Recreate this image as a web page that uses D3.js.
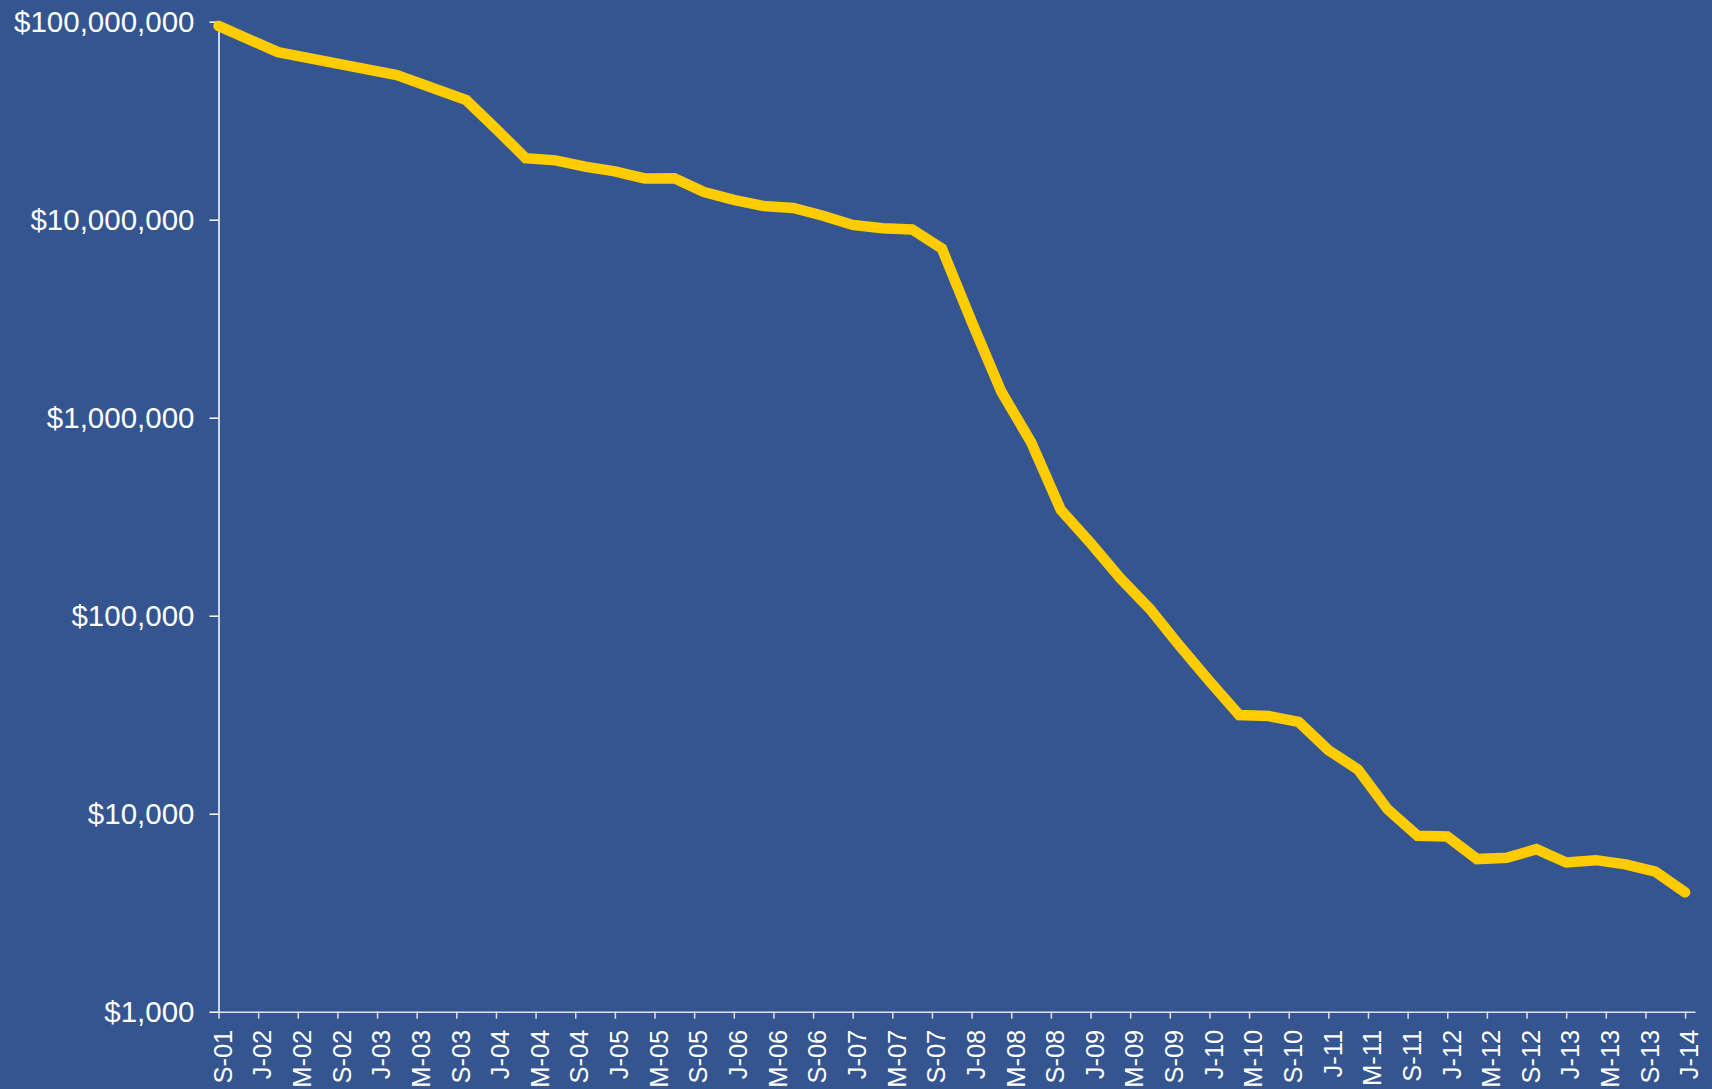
<!DOCTYPE html>
<html>
<head>
<meta charset="utf-8">
<script src="https://cdn.jsdelivr.net/npm/d3@7"></script>
<style>
  html, body { margin: 0; padding: 0; background: #34558f; }
  svg { display: block; }
</style>
</head>
<body>
<div id="chart"></div>
<script>
// cost per genome
const dates = [
  "Sep-01", "Mar-02", "Sep-02", "Mar-03", "Oct-03", "Jan-04", "Apr-04", "Jul-04",
  "Oct-04", "Jan-05", "Apr-05", "Jul-05", "Oct-05", "Jan-06", "Apr-06", "Jul-06",
  "Oct-06", "Jan-07", "Apr-07", "Jul-07", "Oct-07", "Jan-08", "Apr-08", "Jul-08",
  "Oct-08", "Jan-09", "Apr-09", "Jul-09", "Oct-09", "Jan-10", "Apr-10", "Jul-10",
  "Oct-10", "Jan-11", "Apr-11", "Jul-11", "Oct-11", "Jan-12", "Apr-12", "Jul-12",
  "Oct-12", "Jan-13", "Apr-13", "Jul-13", "Oct-13", "Jan-14"
];
const costs = [
  95263072, 70175437, 61448422, 53751684, 40157554, 28780376, 20442576, 19934346,
  18519312, 17534970, 16159699, 16180224, 13801124, 12585659, 11732535, 11455315,
  10474556, 9408739, 9047003, 8927342, 7147571, 3063820, 1352982, 752080,
  342502, 232735, 154714, 108065, 70333, 46774, 31512, 31125,
  29092, 20963, 16712, 10497, 7743, 7666, 5901, 5985,
  6618, 5671, 5826, 5550, 5096, 4008
];
const xTickLabels = [
  "S-01", "J-02", "M-02", "S-02", "J-03", "M-03", "S-03", "J-04", "M-04", "S-04",
  "J-05", "M-05", "S-05", "J-06", "M-06", "S-06", "J-07", "M-07", "S-07", "J-08",
  "M-08", "S-08", "J-09", "M-09", "S-09", "J-10", "M-10", "S-10", "J-11", "M-11",
  "S-11", "J-12", "M-12", "S-12", "J-13", "M-13", "S-13", "J-14"
];
const yTicks = [1000, 10000, 100000, 1000000, 10000000, 100000000];

const width = 1712;
const height = 1089;
const marginLeft = 218.5;
const marginTop = 21.7;
const plotBottom = 1011.7;
const plotRight = 1695;

// months since Sep 2001, the axis runs in month steps
const parse = d3.timeParse("%b-%y");
const start = parse(dates[0]);
const data = dates.map((d, i) => ({
  m: d3.timeMonth.count(start, parse(d)),
  v: costs[i]
}));
const tickMonths = xTickLabels.map((l, i) => i * 4);

const x = d3.scaleLinear()
  .domain([0, 149])
  .range([marginLeft, plotRight]);

const y = d3.scaleLog()
  .domain([1000, 100000000])
  .range([plotBottom, marginTop]);

const svg = d3.select("#chart")
  .append("svg")
  .attr("width", width)
  .attr("height", height)
  .attr("viewBox", [0, 0, width, height])
  .style("font-family", "'Liberation Sans', Arial, sans-serif");

svg.append("rect")
  .attr("width", width)
  .attr("height", height)
  .attr("fill", "#34558f");

// y axis
const yAxis = svg.append("g")
  .attr("transform", `translate(${marginLeft},0)`)
  .call(d3.axisLeft(y)
    .tickValues(yTicks)
    .tickFormat(d => "$" + d3.format(",")(d))
    .tickSize(9)
    .tickSizeOuter(0)
    .tickPadding(15));
yAxis.select(".domain").attr("stroke", "#ffffff").attr("stroke-width", 1.5);
yAxis.selectAll(".tick line").attr("stroke", "#ffffff").attr("stroke-width", 1.5);
yAxis.selectAll(".tick text")
  .attr("fill", "#ffffff")
  .style("font-size", "29.5px");

// x axis
const xAxis = svg.append("g")
  .attr("transform", `translate(0,${plotBottom})`)
  .call(d3.axisBottom(x)
    .tickValues(tickMonths)
    .tickFormat((d, i) => xTickLabels[i])
    .tickSize(7)
    .tickSizeOuter(0));
xAxis.select(".domain").attr("stroke", "#dde3ee").attr("stroke-width", 1.5);
xAxis.selectAll(".tick line").attr("stroke", "#dde3ee").attr("stroke-width", 1.5);
xAxis.selectAll(".tick text")
  .attr("fill", "#ffffff")
  .style("font-size", "25.5px")
  .attr("text-anchor", "end")
  .attr("transform", "rotate(-90)")
  .attr("x", -18)
  .attr("y", 0)
  .attr("dy", "0.5em");

// the cost line
const line = d3.line()
  .x(d => x(d.m))
  .y(d => y(d.v));

svg.append("path")
  .datum(data)
  .attr("fill", "none")
  .attr("stroke", "#ffcc00")
  .attr("stroke-width", 10.5)
  .attr("stroke-linecap", "round")
  .attr("stroke-linejoin", "miter")
  .attr("d", line);
</script>
</body>
</html>
